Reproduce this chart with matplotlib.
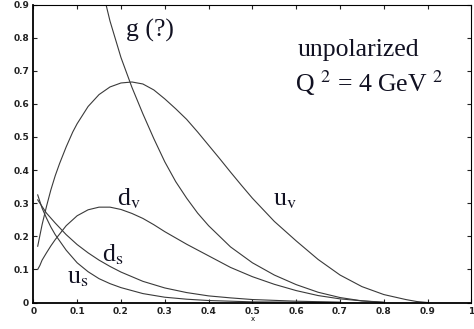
import numpy as np
import matplotlib
matplotlib.use('Agg')
import matplotlib.pyplot as plt

plt.rcParams['mathtext.fontset'] = 'stix'

# parton distributions x*f(x), read at Q^2 = 4 GeV^2
x_uv = [0.01, 0.02, 0.03, 0.04, 0.05, 0.06, 0.075, 0.09, 0.1, 0.125, 0.15, 0.175, 0.2,
        0.225, 0.25, 0.275, 0.3, 0.325, 0.35, 0.375, 0.4, 0.425, 0.45, 0.475, 0.5, 0.55,
        0.6, 0.65, 0.7, 0.75, 0.8, 0.85, 0.875, 0.9]
u_v = [0.17, 0.235, 0.29, 0.34, 0.383, 0.42, 0.47, 0.515, 0.54, 0.592, 0.628, 0.651, 0.663,
       0.666, 0.66, 0.642, 0.615, 0.585, 0.553, 0.515, 0.475, 0.435, 0.394, 0.354, 0.315,
       0.245, 0.186, 0.13, 0.083, 0.048, 0.024, 0.009, 0.003, 0.0]

x_dv = [0.01, 0.015, 0.02, 0.03, 0.04, 0.05, 0.075, 0.1, 0.125, 0.15, 0.175, 0.2, 0.225,
        0.25, 0.275, 0.3, 0.35, 0.4, 0.45, 0.5, 0.55, 0.6, 0.65, 0.7, 0.75, 0.8]
d_v = [0.1, 0.112, 0.128, 0.15, 0.171, 0.19, 0.232, 0.262, 0.28, 0.288, 0.288, 0.281, 0.269,
       0.254, 0.235, 0.214, 0.176, 0.141, 0.106, 0.078, 0.055, 0.036, 0.021, 0.011, 0.005,
       0.001]

x_sea = [0.01, 0.02, 0.03, 0.04, 0.05, 0.075, 0.1, 0.125, 0.15, 0.175, 0.2, 0.25, 0.3,
         0.35, 0.4, 0.45, 0.5, 0.6, 0.7]
d_s = [0.31, 0.29, 0.27, 0.255, 0.24, 0.205, 0.175, 0.15, 0.128, 0.109, 0.092, 0.064, 0.044,
       0.03, 0.02, 0.014, 0.009, 0.004, 0.001]
u_s = [0.325, 0.285, 0.255, 0.228, 0.205, 0.158, 0.12, 0.093, 0.072, 0.057, 0.045, 0.027,
       0.016, 0.01, 0.006, 0.004, 0.002, 0.001, 0.0]

x_g = [0.15, 0.164, 0.175, 0.2, 0.225, 0.25, 0.275, 0.3, 0.325, 0.35, 0.375, 0.4, 0.45,
       0.5, 0.55, 0.6, 0.65, 0.7, 0.75, 0.8]
g = [0.98, 0.91, 0.85, 0.74, 0.65, 0.57, 0.495, 0.425, 0.365, 0.315, 0.27, 0.232, 0.168,
     0.12, 0.083, 0.054, 0.031, 0.015, 0.005, 0.0]

x_ticks = [0, 0.1, 0.2, 0.3, 0.4, 0.5, 0.6, 0.7, 0.8, 0.9, 1]
x_ticklabels = ['0', '0.1', '0.2', '0.3', '0.4', '0.5', '0.6', '0.7', '0.8', '0.9', '1']
y_ticks = [0, 0.1, 0.2, 0.3, 0.4, 0.5, 0.6, 0.7, 0.8, 0.9]
y_ticklabels = ['0', '0.1', '0.2', '0.3', '0.4', '0.5', '0.6', '0.7', '0.8', '0.9']

fig = plt.figure(figsize=(4.74, 3.29), dpi=100)
ax = fig.add_axes([0.0703, 0.0805, 0.9244, 0.9058])

line_kw = dict(color='#3a3a3a', linewidth=0.8)
ax.plot(x_uv, u_v, **line_kw)
ax.plot(x_dv, d_v, **line_kw)
ax.plot(x_sea, d_s, **line_kw)
ax.plot(x_sea, u_s, **line_kw)
ax.plot(x_g, g, **line_kw)

ax.set_xlim(0, 1)
ax.set_ylim(0, 0.9)
ax.set_xticks(x_ticks)
ax.set_xticklabels(x_ticklabels)
ax.set_yticks(y_ticks)
ax.set_yticklabels(y_ticklabels)
ax.tick_params(direction='in', length=3, width=0.8, top=True, right=True,
               labelsize=6.5, colors='#222222', pad=3)
for lab in ax.get_xticklabels() + ax.get_yticklabels():
    lab.set_fontweight('bold')

for side in ['left', 'bottom']:
    ax.spines[side].set_linewidth(1.3)
for side in ['top', 'right']:
    ax.spines[side].set_linewidth(0.8)

ax.set_xlabel('x', fontsize=5, labelpad=0)

# curve labels, serif like the original annotation
txt_kw = dict(family='Liberation Serif', fontsize=18.5, color='#111122', va='baseline')
ax.text(0.212, 0.803, 'g (?)', **txt_kw)
ax.text(0.19, 0.294, r'd$_{\rm v}$', **txt_kw)
ax.text(0.156, 0.123, r'd$_{\rm s}$', **txt_kw)
ax.text(0.076, 0.058, r'u$_{\rm s}$', **txt_kw)
ax.text(0.548, 0.294, r'u$_{\rm v}$', **txt_kw)
ax.text(0.604, 0.745, 'unpolarized', **txt_kw)
ax.text(0.597, 0.635, r'Q $^{2}$ = 4 GeV $^{2}$', **txt_kw)

fig.savefig('out.png', dpi=100)
